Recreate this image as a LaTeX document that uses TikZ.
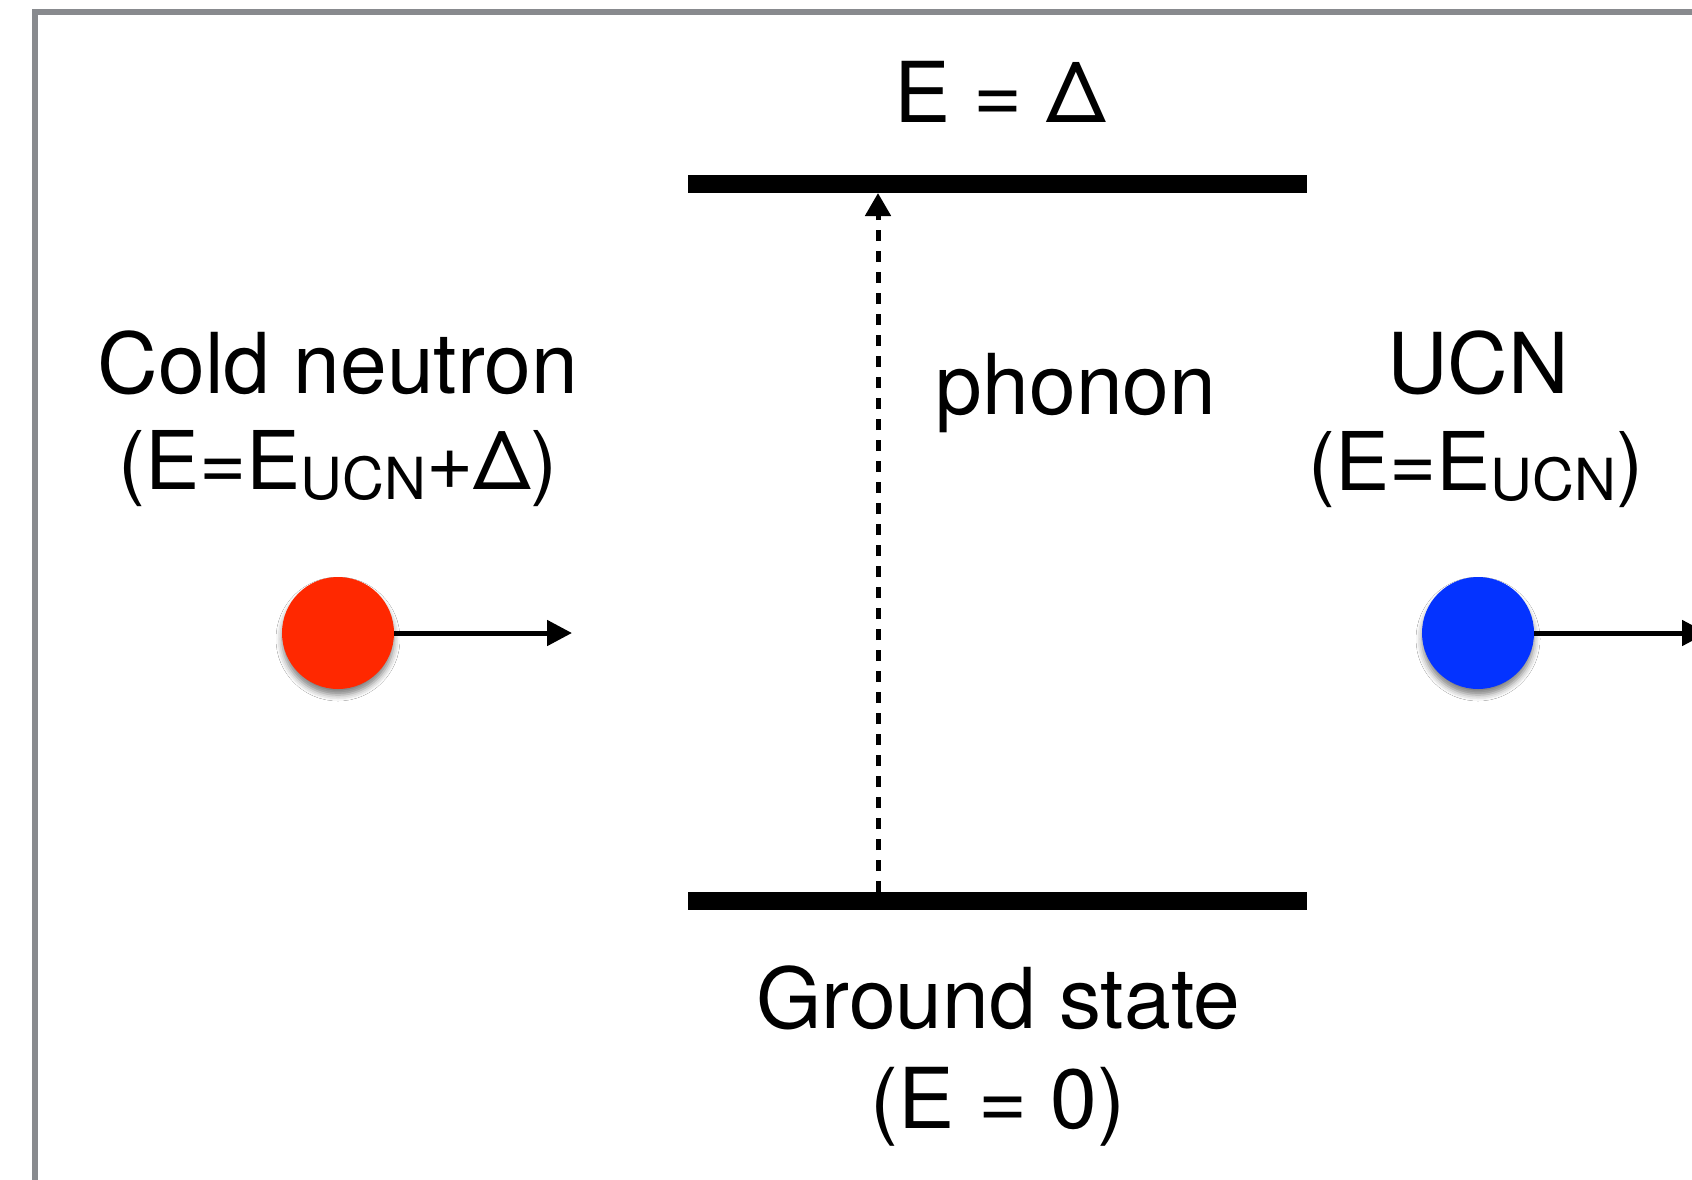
\documentclass[tikz,border=0pt]{standalone}
\usepackage{fontspec}
\setmainfont{TeX Gyre Heros}
\usetikzlibrary{arrows.meta,shadows.blur}
\definecolor{framegray}{RGB}{136,138,142}
\definecolor{coldred}{RGB}{255,40,0}
\definecolor{ucnblue}{RGB}{4,51,255}
\newcommand{\subucn}{\raisebox{-5pt}{\fontsize{29}{30}\selectfont UCN}}
\tikzset{
  lbl/.style={anchor=base, inner sep=0pt, font=\fontsize{42}{50}\selectfont},
  lblsmall/.style={anchor=base, inner sep=0pt, font=\fontsize{40.5}{48}\selectfont},
  level/.style={line width=9pt, black},
  particle/.style={circle, inner sep=0pt, minimum size=56pt,
    blur shadow={shadow xshift=0pt, shadow yshift=-3pt, shadow blur radius=3pt, shadow opacity=50}},
  motion/.style={line width=2.5pt, -{Triangle[length=12.5pt,width=12.5pt]}},
  phononarrow/.style={line width=2.5pt, dash pattern=on 5.5pt off 5pt, -{Triangle[length=11.5pt,width=12.5pt]}},
}
\begin{document}
\begin{tikzpicture}[x=0.5pt,y=-0.5pt]
\useasboundingbox (0,0) rectangle (1692,1179);
\clip (0,0) rectangle (1692,1179);
\fill[white] (0,0) rectangle (1692,1179);
% frame
\draw[framegray, line width=2.75pt] (35,1300) -- (35,12) -- (1800,12);
% energy levels
\coordinate (topL) at (688,184);
\coordinate (topR) at (1307,184);
\coordinate (botL) at (688,901);
\coordinate (botR) at (1307,901);
\draw[level] (topL) -- (topR);
\draw[level] (botL) -- (botR);
\coordinate (phS) at (878,892);
\coordinate (phE) at (878,193);
\draw[phononarrow] (phS) -- (phE);
% labels
\node[lbl] (eDelta) at (1000,122) {E = Δ};
\node[lbl] (phonon) at (1076,414) {phonon};
\node[lbl] (coldN) at (338,393) {Cold neutron};
\node[lblsmall] (coldE) at (338,489) {(E=E\subucn+Δ)};
\node[lbl] (ucnN) at (1478,393) {UCN};
\node[lblsmall] (ucnE) at (1476,490) {(E=E\subucn)};
\node[lbl] (ground) at (998,1028) {Ground state};
\node[lbl] (groundE) at (998,1128) {(E = 0)};
% particles
\node[particle, fill=coldred] (cold) at (338,633) {};
\node[particle, fill=ucnblue] (ucn) at (1478,633) {};
\coordinate (coldTip) at (572,633);
\coordinate (ucnTip) at (1707,633);
\draw[motion] (cold.east) -- (coldTip);
\draw[motion] (ucn.east) -- (ucnTip);
\end{tikzpicture}
\end{document}
